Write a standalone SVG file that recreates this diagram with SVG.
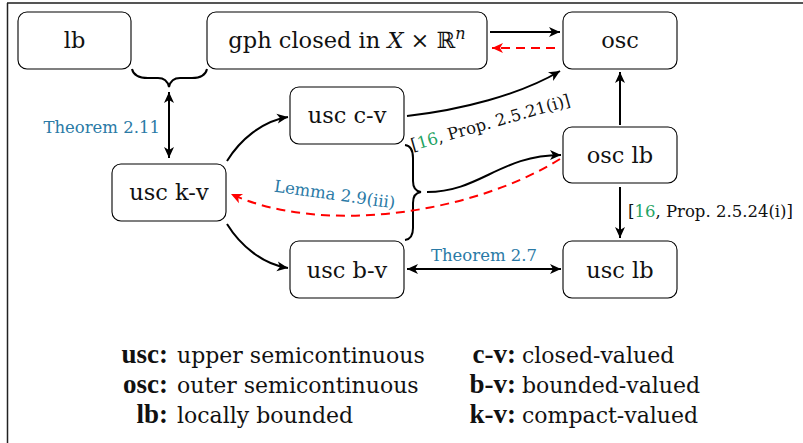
<svg xmlns="http://www.w3.org/2000/svg" width="803" height="443" viewBox="0 0 803 443">
<defs>
<style>
text{font-family:"DejaVu Serif",serif}
.box{fill:#fff;stroke:#000;stroke-width:1.1}
.nt{font-size:22.5px;fill:#111;text-anchor:middle}
.ln{fill:none;stroke:#000;stroke-width:2}
.rd{fill:none;stroke:#ff0000;stroke-width:2;stroke-dasharray:9 6}
.lb{font-size:16.5px}
.bl{fill:#2a7aa6}
.gr{fill:#1fa363}
.lg{font-size:22px;fill:#111}
.bd{font-family:"Liberation Serif","DejaVu Serif",serif;font-weight:bold;font-size:27px}
</style>
<marker id="ah" viewBox="-12 -6 13 12" refX="0" refY="0" markerWidth="13" markerHeight="12" markerUnits="userSpaceOnUse" orient="auto-start-reverse">
<path d="M0,0 L-11,-5 L-8,0 L-11,5 Z" fill="#000"/>
</marker>
<marker id="ahr" viewBox="-12 -6 13 12" refX="0" refY="0" markerWidth="13" markerHeight="12" markerUnits="userSpaceOnUse" orient="auto-start-reverse">
<path d="M0,0 L-11,-5 L-8,0 L-11,5 Z" fill="#ff0000"/>
</marker>
</defs>
<rect x="0" y="0" width="803" height="443" fill="#fff"/>
<line x1="7" y1="3" x2="803" y2="3" stroke="#555" stroke-width="2"/>
<line x1="7.5" y1="3" x2="7.5" y2="443" stroke="#222" stroke-width="1.5"/>

<g id="connectors">
<path class="ln" d="M490,32 L560,32" marker-end="url(#ah)"/>
<path class="rd" d="M555,48 L492,48" marker-end="url(#ahr)"/>
<path class="ln" d="M407,116 C460,110 520,95 560,71" marker-end="url(#ah)"/>
<path class="ln" d="M620,125 L620,72" marker-end="url(#ah)"/>
<path class="ln" d="M620,187 L620,238" marker-end="url(#ah)"/>
<path class="ln" d="M132,69 Q134,78 148,78 L158,78 Q167,78 169,87 Q171,78 180,78 L192,78 Q205,78 207,69"/>
<path class="ln" d="M169,92 L169,158" marker-start="url(#ah)" marker-end="url(#ah)"/>
<path class="ln" d="M405,145 Q413,146 413,158 L413,181 Q413,191 421,192 Q413,193 413,203 L413,228 Q413,239 405,240"/>
<path class="ln" d="M427,192 C480,192 500,155 561,155" marker-end="url(#ah)"/>
<path class="rd" d="M560,159 C470,215 320,235 231,194" marker-end="url(#ahr)"/>
<path class="ln" d="M227,161 C240,140 262,121 288,117" marker-end="url(#ah)"/>
<path class="ln" d="M227,224 C240,245 262,264 288,268" marker-end="url(#ah)"/>
<path class="ln" d="M407,269 L561,269" marker-start="url(#ah)" marker-end="url(#ah)"/>
<text class="lb bl" x="160" y="133" text-anchor="end">Theorem 2.11</text>
<text class="lb bl" x="484" y="261" text-anchor="middle">Theorem 2.7</text>
<text class="lb bl" x="334" y="200" text-anchor="middle" transform="rotate(8 334 200)">Lemma 2.9(iii)</text>
<text class="lb" x="492" y="128" text-anchor="middle" transform="rotate(-16 492 128)" fill="#111">[<tspan class="gr">16</tspan>, Prop. 2.5.21(i)]</text>
<text class="lb" x="628" y="217" fill="#111">[<tspan class="gr">16</tspan>, Prop. 2.5.24(i)]</text>
</g>

<g id="n-lb"><rect class="box" x="18" y="12" width="113" height="57" rx="9"/><text class="nt" x="74.5" y="48">lb</text></g>
<g id="n-gph"><rect class="box" x="207" y="12" width="280" height="57" rx="9"/><text class="nt" x="347" y="48">gph closed in <tspan font-style="italic">X</tspan> × ℝ<tspan font-style="italic" font-size="16" dy="-9">n</tspan></text></g>
<g id="n-osc"><rect class="box" x="563" y="12" width="114" height="57" rx="9"/><text class="nt" x="620" y="48">osc</text></g>
<g id="n-uscv"><rect class="box" x="290" y="87" width="114" height="57" rx="9"/><text class="nt" x="347" y="123">usc c-v</text></g>
<g id="n-usckv"><rect class="box" x="112" y="164" width="114" height="57" rx="9"/><text class="nt" x="169" y="200">usc k-v</text></g>
<g id="n-osclb"><rect class="box" x="563" y="127" width="114" height="56" rx="9"/><text class="nt" x="620" y="163">osc lb</text></g>
<g id="n-uscbv"><rect class="box" x="290" y="241" width="114" height="57" rx="9"/><text class="nt" x="347" y="278">usc b-v</text></g>
<g id="n-usclb"><rect class="box" x="563" y="241" width="114" height="57" rx="9"/><text class="nt" x="620" y="278">usc lb</text></g>

<g id="legend">
<text class="lg bd" x="168" y="363" text-anchor="end">usc:</text>
<text class="lg" x="177" y="363">upper semicontinuous</text>
<text class="lg bd" x="168" y="393" text-anchor="end">osc:</text>
<text class="lg" x="177" y="393">outer semicontinuous</text>
<text class="lg bd" x="168" y="423" text-anchor="end">lb:</text>
<text class="lg" x="177" y="423">locally bounded</text>
<text class="lg bd" x="516" y="363" text-anchor="end">c-v:</text>
<text class="lg" x="522" y="363">closed-valued</text>
<text class="lg bd" x="516" y="393" text-anchor="end">b-v:</text>
<text class="lg" x="522" y="393">bounded-valued</text>
<text class="lg bd" x="516" y="423" text-anchor="end">k-v:</text>
<text class="lg" x="522" y="423">compact-valued</text>
</g>
</svg>
